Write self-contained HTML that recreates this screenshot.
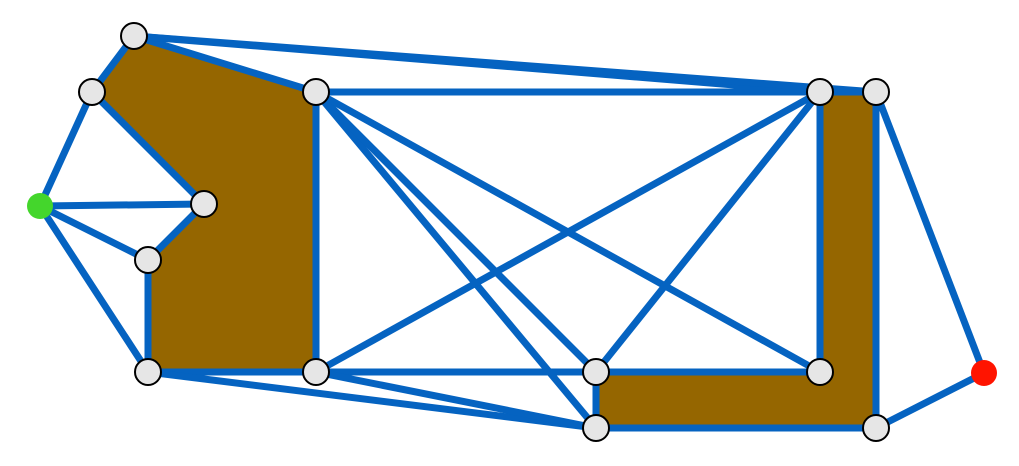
<!DOCTYPE html>
<html><head><meta charset="utf-8"><style>
html,body{margin:0;padding:0;background:#fff;}
svg{display:block;}
</style></head><body>
<svg id="chart" width="1019" height="466" viewBox="0 0 1019 466" xmlns="http://www.w3.org/2000/svg"></svg>
<script>
const nodeX = [134, 92, 316, 820, 876, 40, 204, 148, 148, 316, 596, 820, 984, 596, 876];
const nodeY = [36, 92, 92, 92, 92, 206, 204, 260, 372, 372, 372, 372, 373, 428, 428];
const nodeColor = ["#e6e6e6","#e6e6e6","#e6e6e6","#e6e6e6","#e6e6e6","#44d62c","#e6e6e6","#e6e6e6","#e6e6e6","#e6e6e6","#e6e6e6","#e6e6e6","#ff1400","#e6e6e6","#e6e6e6"];
const polys = [[0,2,9,8,7,6,1],[3,4,14,13,10,11]];
const edges = [[0,1],[0,2],[0,3],[0,4],[1,5],[1,6],[5,6],[5,7],[5,8],[6,7],[7,8],[8,9],[8,13],[2,9],[2,3],[2,13],[2,10],[2,11],[3,9],[3,10],[3,11],[3,4],[4,14],[4,12],[12,14],[10,11],[10,13],[13,14],[9,10],[9,13],[11,3]];
const NS = "http://www.w3.org/2000/svg";
const svg = document.getElementById("chart");
polys.forEach((p,i)=>{
  const el = document.createElementNS(NS,"polygon");
  el.setAttribute("points", p.map(k=>nodeX[k]+","+nodeY[k]).join(" "));
  el.setAttribute("fill","#956600");
  
  
  svg.appendChild(el);
});
edges.forEach(([a,b])=>{
  const el = document.createElementNS(NS,"line");
  el.setAttribute("x1",nodeX[a]);el.setAttribute("y1",nodeY[a]);
  el.setAttribute("x2",nodeX[b]);el.setAttribute("y2",nodeY[b]);
  el.setAttribute("stroke","#0563c1");el.setAttribute("stroke-width","7");
  
  
  svg.appendChild(el);
});
nodeX.forEach((x,i)=>{
  const el = document.createElementNS(NS,"circle");
  el.setAttribute("cx",x);el.setAttribute("cy",nodeY[i]);el.setAttribute("r","13");
  el.setAttribute("fill",nodeColor[i]);
  if(nodeColor[i]==="#e6e6e6"){el.setAttribute("stroke","#000");el.setAttribute("stroke-width","2");}
  
  
  svg.appendChild(el);
});
</script>
</body></html>
